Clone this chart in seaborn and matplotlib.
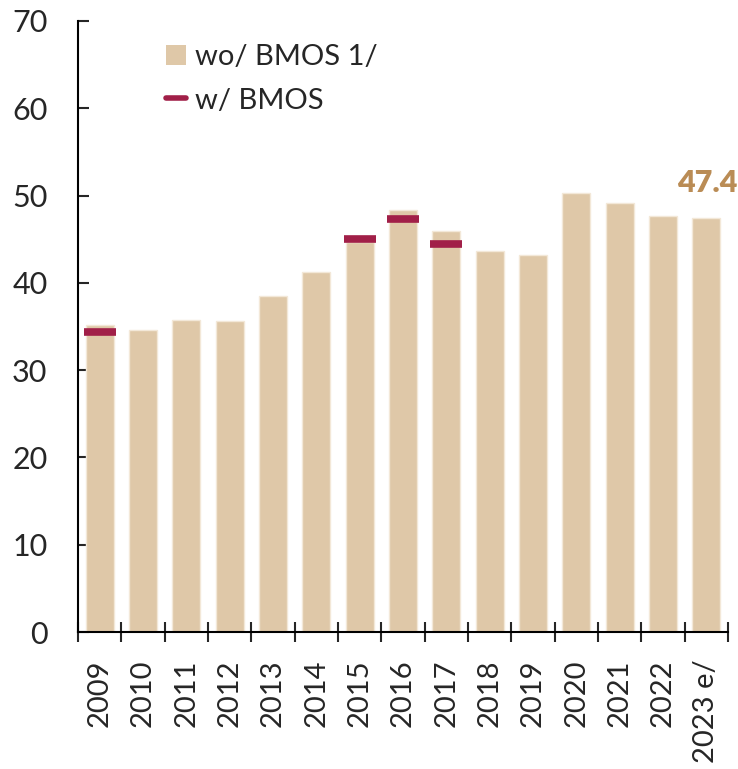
import matplotlib
matplotlib.use("Agg")
import matplotlib.pyplot as plt
import seaborn as sns
import numpy as np
import pandas as pd
from matplotlib.lines import Line2D
from matplotlib.patches import Patch
from matplotlib.transforms import offset_copy

years = ["2009", "2010", "2011", "2012", "2013", "2014", "2015", "2016",
         "2017", "2018", "2019", "2020", "2021", "2022", "2023 e/"]
wo_bmos = [35.2, 34.6, 35.7, 35.6, 38.5, 41.2, 44.7, 48.3,
           45.9, 43.6, 43.2, 50.3, 49.2, 47.7, 47.4]
w_bmos = [34.4, np.nan, np.nan, np.nan, np.nan, np.nan, 45.0, 47.3,
          44.5, np.nan, np.nan, np.nan, np.nan, np.nan, np.nan]
yticks = [0, 10, 20, 30, 40, 50, 60, 70]
last_label = "47.4"

bar_color = "#DFC8A8"
mark_color = "#A11F48"
label_color = "#BA8C55"

sns.set_style("white")
plt.rcParams["font.family"] = ["Lato", "DejaVu Sans"]

df = pd.DataFrame({"year": years, "wo": wo_bmos, "w": w_bmos})

fig = plt.figure(figsize=(7.38, 7.69), dpi=100)
ax = fig.add_axes([78/738, 1-632/769, 650/738, 611/769])

sns.barplot(data=df, x="year", y="wo", order=years, color=bar_color,
            width=0.65, edgecolor="#F3E8D8", linewidth=1, saturation=1,
            ax=ax)

pos = np.arange(len(years))
mask = ~np.isnan(np.array(w_bmos))
ax.hlines(np.array(w_bmos)[mask], pos[mask] - 0.37, pos[mask] + 0.37,
          color=mark_color, linewidth=5.5, zorder=3)

ax.set_ylim(0, 70)
ax.set_xlim(-0.5, len(years) - 0.5)
ax.set_yticks(yticks)
ax.set_yticklabels([str(t) for t in yticks])
ax.set_xticks(pos)
ax.set_xticklabels(years, rotation=90)
ax.set_xlabel("")
ax.set_ylabel("")

for s in ["top", "right"]:
    ax.spines[s].set_visible(False)
for s in ["left", "bottom"]:
    ax.spines[s].set_linewidth(1.5)
    ax.spines[s].set_color("black")

ax.tick_params(axis="y", direction="in", length=8, width=1.5, labelsize=22,
               pad=22, left=True)
ax.tick_params(axis="x", which="major", length=0, labelsize=21, pad=20,
               bottom=True)
ax.set_xticks(np.arange(-0.5, len(years), 1.0), minor=True)
ax.tick_params(axis="x", which="minor", direction="inout", length=15,
               width=1.5, bottom=True)

tr = offset_copy(ax.transData, fig=fig, x=9, y=0, units="dots")
ax.text(len(years) - 0.5, wo_bmos[-1] + 2.4, last_label, transform=tr,
        ha="right", va="bottom", fontsize=22, fontweight="heavy",
        color=label_color)

handles = [Patch(facecolor=bar_color, edgecolor="none"),
           Line2D([0], [0], color=mark_color, linewidth=4)]
ax.legend(handles, ["wo/ BMOS 1/", "w/ BMOS"], loc="upper left",
          bbox_to_anchor=(0.095, 1.005), frameon=False, fontsize=21,
          handlelength=0.7, handleheight=0.7, handletextpad=0.3,
          labelspacing=0.6)

fig.savefig("out.png", dpi=100)
